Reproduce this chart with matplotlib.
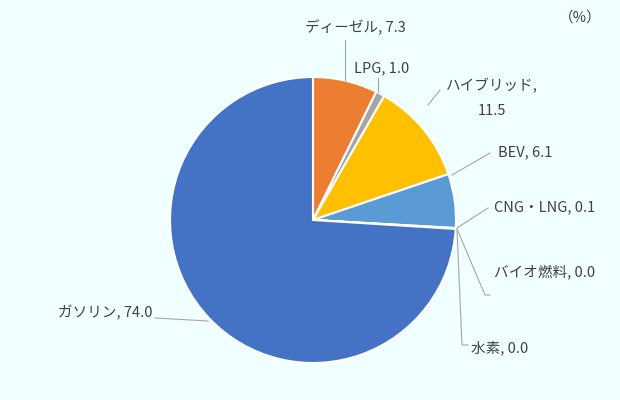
import matplotlib
matplotlib.use("Agg")
import matplotlib.pyplot as plt
from matplotlib.lines import Line2D

plt.rcParams['font.family'] = ['Noto Sans CJK JP', 'DejaVu Sans']

categories = ["ディーゼル", "LPG", "ハイブリッド", "BEV", "CNG・LNG", "バイオ燃料", "水素", "ガソリン"]
values = [7.3, 1.0, 11.5, 6.1, 0.1, 0.0, 0.0, 74.0]
colors = ["#ED7D31", "#A5A5A5", "#FFC000", "#5B9BD5", "#70AD47", "#264478", "#9E480E", "#4472C4"]

W, H = 620, 400
bg = "#F0FFFF"
fig = plt.figure(figsize=(6.2, 4.0), dpi=100, facecolor=bg)
cx, cy, r = 313, 220, 143
ax = fig.add_axes([(cx - r) / W, (H - cy - r) / H, 2 * r / W, 2 * r / H])
ax.pie(values, colors=colors, startangle=90, counterclock=False,
       wedgeprops=dict(edgecolor="white", linewidth=1.5), radius=1)
ax.set_xlim(-1, 1)
ax.set_ylim(-1, 1)
ax.set_aspect("equal")
ax.set_facecolor(bg)
ax.axis("off")

def P(x, y):
    return (x / W, 1 - y / H)

labels = [
    ("ディーゼル, 7.3", (355, 28), "center", [(345, 80), (345, 40)]),
    ("LPG, 1.0", (382, 68), "center", [(378, 92), (378, 78)]),
    ("ハイブリッド,\n11.5", (492, 98), "center", [(428, 105), (440, 90)]),
    ("BEV, 6.1", (525, 152), "center", [(452, 175), (490, 153)]),
    ("CNG・LNG, 0.1", (545, 207), "center", [(457, 228), (488, 208)]),
    ("バイオ燃料, 0.0", (545, 272), "center", [(457, 229), (485, 295), (490, 295)]),
    ("水素, 0.0", (500, 348), "center", [(457, 230), (462, 345), (468, 345)]),
    ("ガソリン, 74.0", (105, 313), "center", [(208, 321), (155, 318)]),
]
for text, (x, y), ha, pts in labels:
    fig.text(*P(x, y), text, ha=ha, va="center", fontsize=10.5, color="#404040",
             linespacing=2.0)
    xs = [p[0] / W for p in pts]
    ys = [1 - p[1] / H for p in pts]
    fig.add_artist(Line2D(xs, ys, transform=fig.transFigure, color="#A6A6A6", linewidth=0.8))

fig.text(*P(580, 18), "（%）", ha="center", va="center", fontsize=10.5, color="#404040")

fig.savefig("out.png", dpi=100, facecolor=bg)
